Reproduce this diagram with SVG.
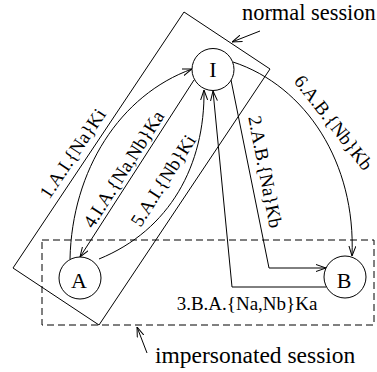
<svg xmlns="http://www.w3.org/2000/svg" width="377" height="372" viewBox="0 0 377 372">
<defs>
<style>
.ln{fill:none;stroke:#000;stroke-width:1}
.nd{fill:#fff;stroke:#000;stroke-width:1}
.dash{fill:none;stroke:#000;stroke-width:1;stroke-dasharray:7,4}
.t{font-family:"Liberation Serif","Times New Roman",serif;fill:#000}
.lb{font-size:19px;text-anchor:middle}
.nl{font-size:22px;text-anchor:middle}
</style>
<marker id="ah" viewBox="0 0 10 8" refX="10" refY="4" markerWidth="10" markerHeight="8" markerUnits="userSpaceOnUse" orient="auto">
<path d="M0,0.5 L10,4 L0,7.5" fill="none" stroke="#000" stroke-width="1"/>
</marker>
</defs>
<rect fill="#fff" width="377" height="372"/>
<g id="sessions">
<polygon class="ln" points="184,12 270,69 99,325 13,268"/>
<rect class="dash" x="42" y="240" width="332" height="85"/>
<text class="t" x="242" y="20" style="font-size:22.4px">normal session</text>
<text class="t" x="155" y="363" style="font-size:23.5px">impersonated session</text>
</g>
<g id="connectors">
<path class="ln" d="M260,31 L232,42" marker-end="url(#ah)"/>
<path class="ln" d="M147,353 L137,327" marker-end="url(#ah)"/>
<path class="ln" d="M70,259 C72,170 120,95 192,69" marker-end="url(#ah)"/>
<path class="ln" d="M194,80 L80,257" marker-end="url(#ah)"/>
<path class="ln" d="M99,259 C170,230 205,165 204,90" marker-end="url(#ah)"/>
<path class="ln" d="M231,80 L269,268 L326,268" marker-end="url(#ah)"/>
<path class="ln" d="M326,287 L232,287 L213,91" marker-end="url(#ah)"/>
<path class="ln" d="M233,62 C306,86 356,163 352,256" marker-end="url(#ah)"/>
<text class="t lb" transform="translate(78,157) rotate(-56.3)">1.A.I.{Na}Ki</text>
<text class="t lb" transform="translate(129,172.5) rotate(-57.5)">4.I.A.{Na,Nb}Ka</text>
<text class="t lb" transform="translate(168.5,184) rotate(-57.5)">5.A.I.{Nb}Ki</text>
<text class="t lb" transform="translate(328.5,126.5) rotate(52)">6.A.B.{Nb}Kb</text>
<text class="t lb" transform="translate(259,173) rotate(79)">2.A.B.{Na}Kb</text>
<text class="t lb" x="247" y="310">3.B.A.{Na,Nb}Ka</text>
</g>
<g id="node-I">
<circle class="nd" cx="213" cy="69.5" r="21"/>
<text class="t nl" x="213" y="77">I</text>
</g>
<g id="node-A">
<circle class="nd" cx="80" cy="278" r="21"/>
<text class="t nl" x="79" y="288">A</text>
</g>
<g id="node-B">
<circle class="nd" cx="345" cy="277" r="21"/>
<text class="t nl" x="344" y="288">B</text>
</g>
</svg>
